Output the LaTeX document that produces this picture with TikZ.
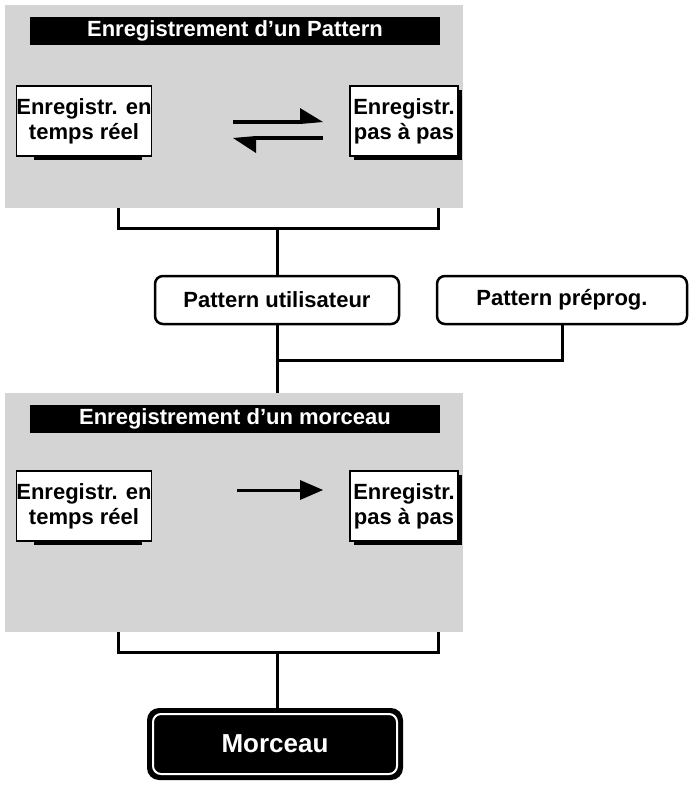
\documentclass[tikz,border=0pt]{standalone}
\usepackage{fontspec}
\setmainfont{Liberation Sans}
\usetikzlibrary{arrows.meta,positioning,calc}

\begin{document}
\begin{tikzpicture}[x=1pt,y=-1pt,
    panel/.style={fill=black!17, draw=none},
    bar/.style={fill=black, text=white, minimum width=410pt, minimum height=28pt, inner sep=0pt},
    mode/.style={draw, line width=1.5pt, fill=white, minimum width=108pt, minimum height=70pt, align=center, inner sep=0pt},
    shadow/.style={fill=black, minimum width=108pt, minimum height=70pt},
    pat/.style={draw, line width=2.5pt, rounded corners=8pt, fill=white, minimum height=48pt, inner sep=0pt},
    link/.style={line width=3pt},
    font=\fontsize{22pt}{25pt}\selectfont\bfseries
]
\useasboundingbox (0,0) rectangle (695,789);

% Panels
\fill[panel] (5,5) rectangle (463,208);
\fill[panel] (5,393) rectangle (463,632);

% Pattern recording
\node[bar] (barA) at (235,31) {Enregistrement d\char39un Pattern};
\node[shadow] at (88,125) {};
\node[mode] (rtA) at (84,121) {Enregistr. en\\temps réel};
\node[shadow] at (408,125) {};
\node[mode] (spA) at (404,121) {Enregistr.\\pas à pas};
\coordinate (a1) at (233,122);
\coordinate (a2) at (323,122);
\coordinate (a3) at (233,138);
\coordinate (a4) at (323,138);
\draw[line width=4pt] (a1) -- (300,122);
\fill (300,124) -- (300,108) -- (a2) -- cycle;
\draw[line width=4pt] (a4) -- (256,138);
\fill (256,136) -- (256,153) -- (a3) -- cycle;

% Patterns
\node[pat, minimum width=244pt] (user) at (277,300) {Pattern utilisateur};
\node[pat, minimum width=250pt] (preset) at (562,300) {Pattern préprog.};

% Song recording
\node[bar] (barB) at (235,419) {Enregistrement d\char39un morceau};
\node[shadow] at (88,510) {};
\node[mode] (rtB) at (84,506) {Enregistr. en\\temps réel};
\node[shadow] at (408,510) {};
\node[mode] (spB) at (404,506) {Enregistr.\\pas à pas};
\coordinate (b1) at (237,490);
\coordinate (b2) at (323,490);
\draw[line width=3pt] (b1) -- (300,490);
\fill (300,480) -- (b2) -- (300,500) -- cycle;

% Song
\node[fill=black, rounded corners=12pt, minimum width=256pt, minimum height=72pt] (songbg) at (275,744) {};
\node[draw=white, line width=2pt, rounded corners=8pt, text=white, minimum width=244pt, minimum height=60pt] (song) at (275,744) {\fontsize{26pt}{30pt}\selectfont Morceau};

% Links
\coordinate (j1) at (118,228);
\coordinate (j2) at (438,228);
\draw[link] (118,208) -- (j1) -- (j2) -- (438,208);
\draw[link] (277,228) -- (user.north);
\coordinate (j3) at (277,360);
\draw[link] (user.south) -- (j3) -- (277,393);
\draw[link] (preset.south) |- (j3);
\coordinate (k1) at (118,652);
\coordinate (k2) at (438,652);
\draw[link] (118,632) -- (k1) -- (k2) -- (438,632);
\draw[link] (277,652) -- (277,708);
\end{tikzpicture}
\end{document}
